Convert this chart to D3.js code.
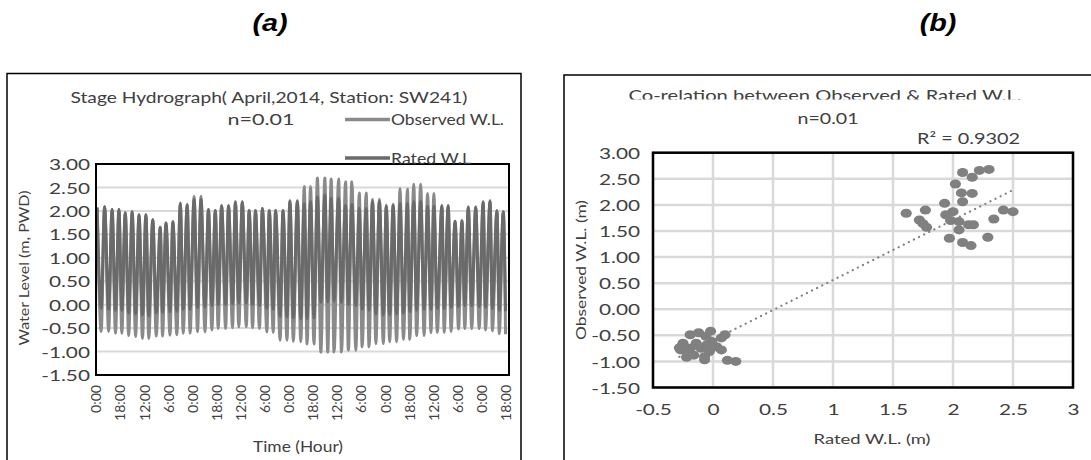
<html>
<head>
<script src="https://cdnjs.cloudflare.com/ajax/libs/d3/7.8.5/d3.min.js"></script>
<style>
  body { margin: 0; background: #fff; }
  text { font-family: Lato, "Open Sans", sans-serif; fill: #404040; }
  .panel-tag { font-family: "Liberation Sans", Arial, sans-serif; font-weight: bold; font-style: italic; fill: #000; }
</style>
</head>
<body>
<svg id="chart" width="1091" height="460"></svg>
<script>
//////////////////////////////// DATA: (a) stage hydrograph ////////////////////////////////
// hour of each high / low water (April 2014, hour 0 = 1 April 0:00)
const peakHours = [2,15,28,40,51,63,75,87,99,112,122,134,147,159,171,183,196,208,219,231,243,255,267,278,290,302,313,326,338,351,
                   363,374,386,399,410,423,435,446,459,471,482,494,506,518,530,543,554,566,578,589,603,614,626,638,649,662,675,687,699,710];
const troughHours = [9,22,34,45,57,69,81,92,105,116,129,141,152,164,177,190,202,213,226,238,249,262,273,285,298,309,321,333,344,357,
                     368,380,392,404,415,428,440,453,464,476,488,501,512,524,536,547,559,572,584,595,607,619,632,643,655,668,679,691,703,714];

const observedHigh = [2.07,2.09,2.03,2.03,1.96,1.98,1.92,1.92,1.81,1.65,1.74,1.77,2.17,2.14,2.31,2.31,2.03,2.01,2.11,2.11,
                      2.20,2.20,2.01,2.01,2.05,2.01,2.01,2.01,2.22,2.22,2.52,2.52,2.70,2.70,2.68,2.68,2.62,2.62,2.38,2.38,
                      2.25,2.25,2.12,2.14,2.48,2.46,2.57,2.57,2.37,2.37,2.12,2.12,1.78,1.79,2.09,2.09,2.20,2.22,2.01,1.98];
const observedLow = [-0.57,-0.57,-0.61,-0.61,-0.66,-0.68,-0.72,-0.72,-0.67,-0.67,-0.65,-0.64,-0.61,-0.61,-0.58,-0.58,-0.54,-0.51,-0.51,-0.49,
                     -0.47,-0.47,-0.49,-0.51,-0.58,-0.59,-0.76,-0.76,-0.78,-0.79,-0.84,-0.84,-1.01,-1.01,-1.01,-1.01,-0.97,-0.97,-0.90,-0.90,
                     -0.83,-0.83,-0.79,-0.79,-0.74,-0.74,-0.66,-0.66,-0.60,-0.59,-0.59,-0.57,-0.52,-0.51,-0.51,-0.51,-0.54,-0.56,-0.62,-0.63];
const ratedHigh = [2.07,2.09,2.03,2.03,1.96,1.98,1.92,1.92,1.81,1.65,1.74,1.77,2.15,2.12,2.25,2.25,2.03,2.01,2.11,2.11,
                   2.18,2.18,2.01,2.01,2.05,2.01,2.01,2.01,2.20,2.20,2.16,2.20,2.30,2.34,2.27,2.27,2.12,2.14,2.05,2.05,
                   2.20,2.20,2.10,2.12,2.16,2.16,2.20,2.20,2.10,2.10,2.10,2.10,1.78,1.79,2.07,2.07,2.18,2.20,2.00,1.98];
const ratedLow = [-0.08,-0.10,-0.12,-0.12,-0.18,-0.20,-0.22,-0.24,-0.18,-0.16,-0.15,-0.14,-0.10,-0.10,-0.06,-0.05,-0.02,0.00,0.00,0.02,
                  0.03,0.03,0.00,-0.02,-0.08,-0.10,-0.25,-0.26,-0.28,-0.30,-0.30,-0.28,0.05,0.06,0.08,0.05,0.00,-0.02,-0.10,-0.12,
                  -0.20,-0.22,-0.22,-0.20,-0.18,-0.15,-0.12,-0.10,-0.10,-0.08,-0.08,-0.06,-0.04,-0.02,-0.02,-0.04,-0.06,-0.08,-0.12,-0.14];

const hourTicks = [0,42,84,126,168,210,252,294,336,378,420,462,504,546,588,630,672,714];
const hourTickLabels = ["0:00","18:00","12:00","6:00","0:00","18:00","12:00","6:00","0:00",
                        "18:00","12:00","6:00","0:00","18:00","12:00","6:00","0:00","18:00"];
const levelTicks = [3,2.5,2,1.5,1,0.5,0,-0.5,-1,-1.5];

//////////////////////////////// DATA: (b) correlation ////////////////////////////////
const ratedWL = [2.08,2.16,2.22,2.30,2.02,2.07,2.16,2.08,1.93,1.77,1.61,1.72,1.78,1.75,1.94,2.00,1.98,2.05,2.13,2.17,2.05,1.97,2.08,2.15,2.29,2.34,2.42,2.50,
                 -0.19,-0.12,-0.02,-0.06,0.07,0.10,-0.25,-0.27,-0.19,-0.14,-0.01,0.03,0.07,-0.16,-0.07,-0.03,-0.21,-0.07,0.12,0.19,-0.10,-0.05,-0.22,-0.28];
const observedWL = [2.62,2.53,2.66,2.68,2.40,2.23,2.22,2.06,2.03,1.90,1.84,1.71,1.57,1.64,1.81,1.87,1.70,1.68,1.62,1.62,1.52,1.36,1.28,1.22,1.38,1.73,1.90,1.87,
                    -0.49,-0.45,-0.42,-0.52,-0.55,-0.49,-0.65,-0.78,-0.75,-0.65,-0.62,-0.72,-0.78,-0.88,-0.91,-0.81,-0.85,-0.97,-0.98,-1.00,-0.75,-0.68,-0.92,-0.74];
const trendSlope = 1.15;
const trendIntercept = -0.59;
const rSquared = "0.9302";
const ratedTicks = [-0.5,0,0.5,1,1.5,2,2.5,3];

//////////////////////////////// SETUP ////////////////////////////////
const svg = d3.select("#chart");
const stretch = 1.3;   // the source picture is widened, horizontal text looks wide

const plotA = { left: 96, right: 509, top: 164, bottom: 375 };
const plotB = { left: 653, right: 1073, top: 152.7, bottom: 387.5 };

const xA = d3.scaleLinear().domain([0, 720]).range([plotA.left, plotA.right]);
const yA = d3.scaleLinear().domain([-1.5, 3]).range([plotA.bottom, plotA.top]);
const xB = d3.scaleLinear().domain([-0.5, 3]).range([plotB.left, plotB.right]);
const yB = d3.scaleLinear().domain([-1.5, 3]).range([plotB.bottom, plotB.top]);

// helper for plain labels, width forced with textLength
const addText = (txt, x, y, size, len, anchor, parent) => {
    const t = (parent || svg).append("text")
        .attr("x", x).attr("y", y)
        .attr("text-anchor", anchor || "middle")
        .style("font-size", size + "px")
        .text(txt);
    if (len) t.attr("textLength", len).attr("lengthAdjust", "spacingAndGlyphs");
    return t;
};

//panel tags
[["(a)", 270], ["(b)", 938]].forEach(p => {
    svg.append("text").attr("class", "panel-tag")
        .attr("transform", "translate(" + p[1] + ",31) scale(1.25,1)")
        .attr("text-anchor", "middle")
        .style("font-size", "23px")
        .text(p[0]);
});

//outer chart boxes
svg.append("rect").attr("x", 7).attr("y", 73.5).attr("width", 514).attr("height", 420)
    .attr("fill", "none").attr("stroke", "#000").attr("stroke-width", 1.5);
svg.append("rect").attr("x", 564).attr("y", 75).attr("width", 600).attr("height", 420)
    .attr("fill", "none").attr("stroke", "#000").attr("stroke-width", 1.5);

//////////////////////////////// (a) HYDROGRAPH ////////////////////////////////
const gA = svg.append("g");

gA.selectAll("line.grid").data(levelTicks).join("line")
    .attr("class", "grid")
    .attr("x1", plotA.left).attr("x2", plotA.right)
    .attr("y1", d => yA(d)).attr("y2", d => yA(d))
    .attr("stroke", "#d9d9d9").attr("stroke-width", 2);

// merge highs and lows into one time ordered series
const tideSeries = (highs, lows) => {
    const pts = peakHours.map((h, i) => ({ h: h, v: highs[i] }))
        .concat(troughHours.map((h, i) => ({ h: h, v: lows[i] })));
    return pts.sort((a, b) => a.h - b.h);
};

const tideLine = d3.line().x(d => xA(d.h)).y(d => yA(d.v)).curve(d3.curveMonotoneX);

svg.append("clipPath").attr("id", "clipA").append("rect")
    .attr("x", plotA.left).attr("y", plotA.top)
    .attr("width", plotA.right - plotA.left).attr("height", plotA.bottom - plotA.top);

const seriesA = [
    { name: "Observed W.L.", color: "#8a8a8a", data: tideSeries(observedHigh, observedLow) },
    { name: "Rated W.L", color: "#6a6a6a", data: tideSeries(ratedHigh, ratedLow) }
];

gA.append("g").attr("clip-path", "url(#clipA)")
    .selectAll("path").data(seriesA).join("path")
    .attr("d", d => tideLine(d.data))
    .attr("fill", "none")
    .attr("stroke", d => d.color)
    .attr("stroke-width", 3)
    .attr("stroke-linejoin", "round");

//axes
const yAxisA = gA.append("g").attr("transform", "translate(" + plotA.left + ",0)")
    .call(d3.axisLeft(yA).tickValues(levelTicks).tickSize(0).tickFormat(d => d.toFixed(2)));
yAxisA.select(".domain").remove();
yAxisA.selectAll("text").attr("x", 0).attr("dy", "0.35em")
    .attr("transform", "translate(-6,0) scale(" + stretch + ",1)")
    .style("font-size", "16px").style("font-family", null).attr("fill", "#404040");

const xAxisA = gA.append("g").attr("transform", "translate(0," + plotA.bottom + ")")
    .call(d3.axisBottom(xA).tickValues(hourTicks).tickSize(0).tickFormat((d, i) => hourTickLabels[i]));
xAxisA.select(".domain").remove();
xAxisA.selectAll("text")
    .attr("transform", "rotate(-90)")
    .attr("x", -10).attr("y", 0).attr("dy", "0.35em")
    .style("text-anchor", "end")
    .style("font-size", "14px").style("font-family", null).attr("fill", "#404040");

//plot border
gA.append("rect").attr("x", plotA.left).attr("y", plotA.top)
    .attr("width", plotA.right - plotA.left).attr("height", plotA.bottom - plotA.top)
    .attr("fill", "none").attr("stroke", "#000").attr("stroke-width", 2);

//titles and legend
addText("Stage Hydrograph( April,2014, Station: SW241)", 269, 103, 15, 397);
addText("n=0.01", 261, 125, 15, 67);
seriesA.forEach((s, i) => {
    const ly = i == 0 ? 119.5 : 158;
    gA.append("line").attr("x1", 345).attr("x2", 390).attr("y1", ly).attr("y2", ly)
        .attr("stroke", s.color).attr("stroke-width", 3.5);
    addText(s.name, 391, ly + 5.5, 15, i == 0 ? 113 : 80, "start");
});
addText("Time (Hour)", 298, 451.5, 15, 90);
svg.append("text")
    .attr("transform", "translate(24,268) rotate(-90)")
    .attr("text-anchor", "middle").attr("dy", "0.35em")
    .style("font-size", "14px")
    .attr("textLength", 155).attr("lengthAdjust", "spacingAndGlyphs")
    .text("Water Level (m, PWD)");

//////////////////////////////// (b) CORRELATION ////////////////////////////////
const gB = svg.append("g");

gB.selectAll("line.hgrid").data(levelTicks).join("line")
    .attr("class", "hgrid")
    .attr("x1", plotB.left).attr("x2", plotB.right)
    .attr("y1", d => yB(d)).attr("y2", d => yB(d))
    .attr("stroke", "#d9d9d9").attr("stroke-width", 2.5);
gB.selectAll("line.vgrid").data(ratedTicks).join("line")
    .attr("class", "vgrid")
    .attr("x1", d => xB(d)).attr("x2", d => xB(d))
    .attr("y1", plotB.top).attr("y2", plotB.bottom)
    .attr("stroke", "#d9d9d9").attr("stroke-width", 2.5);

const points = ratedWL.map((r, i) => ({ r: r, o: observedWL[i] }));

gB.selectAll("ellipse").data(points).join("ellipse")
    .attr("cx", d => xB(d.r)).attr("cy", d => yB(d.o))
    .attr("rx", 5.6).attr("ry", 4.5)
    .attr("fill", "#808080");

//linear trendline over the range of the data
const rRange = d3.extent(ratedWL);
gB.append("path")
    .datum(rRange.map(r => ({ r: r, o: trendIntercept + trendSlope * r })))
    .attr("d", d3.line().x(d => xB(d.r)).y(d => yB(d.o)))
    .attr("fill", "none")
    .attr("stroke", "#808080").attr("stroke-width", 2.2)
    .attr("stroke-linecap", "round").attr("stroke-dasharray", "0.1,5.6");

const yAxisB = gB.append("g").attr("transform", "translate(" + plotB.left + ",0)")
    .call(d3.axisLeft(yB).tickValues(levelTicks).tickSize(0).tickFormat(d => d.toFixed(2)));
yAxisB.select(".domain").remove();
yAxisB.selectAll("text").attr("x", 0).attr("dy", "0.35em")
    .attr("transform", "translate(-13,0) scale(" + stretch + ",1)")
    .style("font-size", "16px").style("font-family", null).attr("fill", "#404040");

const xAxisB = gB.append("g").attr("transform", "translate(0," + plotB.bottom + ")")
    .call(d3.axisBottom(xB).tickValues(ratedTicks).tickSize(0).tickPadding(16).tickFormat(d => String(d)));
xAxisB.select(".domain").remove();
xAxisB.selectAll("text")
    .attr("transform", "scale(" + stretch + ",1)")
    .style("font-size", "16px").style("font-family", null).attr("fill", "#404040");

gB.append("rect").attr("x", plotB.left).attr("y", plotB.top)
    .attr("width", plotB.right - plotB.left).attr("height", plotB.bottom - plotB.top)
    .attr("fill", "none").attr("stroke", "#000").attr("stroke-width", 2.5);

//title is cut off at its baseline in the original
svg.append("clipPath").attr("id", "clipTitleB").append("rect")
    .attr("x", 560).attr("y", 0).attr("width", 531).attr("height", 99.5);
const titleB = svg.append("g").attr("clip-path", "url(#clipTitleB)");
addText("Co-relation between Observed & Rated W.L.", 825, 101, 15, 393, "middle", titleB);
addText("n=0.01", 828, 123.5, 15, 61);
addText("R\u00b2 = " + rSquared, 917, 143.5, 15, 103, "start");
addText("Rated W.L. (m)", 872, 444, 14, 117);
svg.append("text")
    .attr("transform", "translate(581,270) rotate(-90)")
    .attr("text-anchor", "middle").attr("dy", "0.35em")
    .style("font-size", "14px")
    .attr("textLength", 140).attr("lengthAdjust", "spacingAndGlyphs")
    .text("Observed W.L. (m)");
</script>
</body>
</html>
